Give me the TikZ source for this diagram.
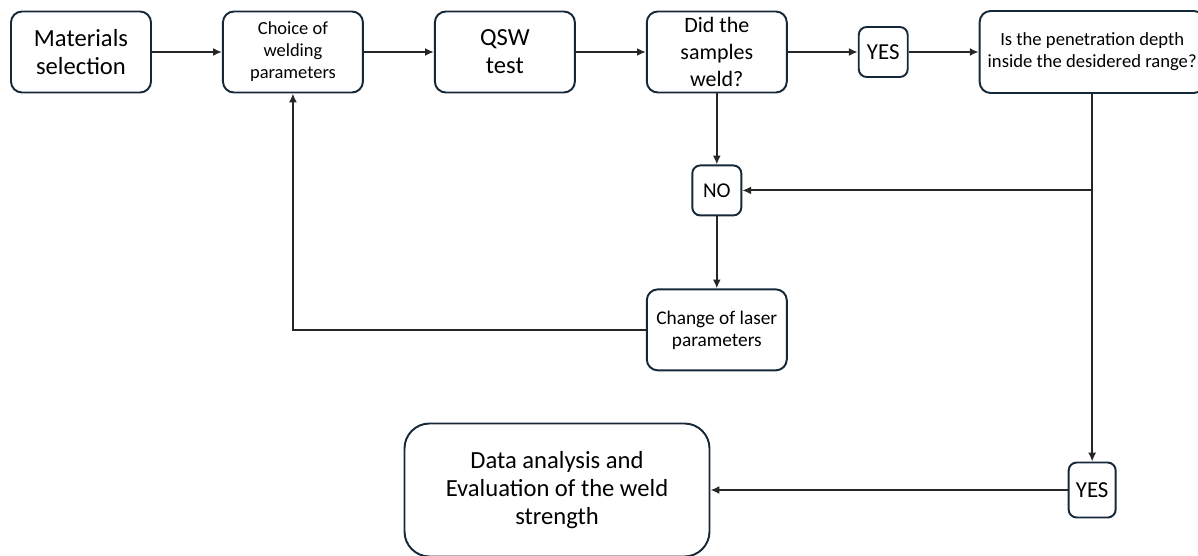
\documentclass[tikz,border=0pt]{standalone}
\usepackage{fontspec}
\setmainfont{Carlito}
\usetikzlibrary{arrows.meta,positioning,calc}
\definecolor{boxline}{RGB}{22,40,56}

\begin{document}
\begin{tikzpicture}[
  node distance=1.4cm,
  stepbox/.style={draw=boxline, line width=1.1pt, rounded corners=0.22cm, align=center, minimum width=2.8cm, minimum height=1.62cm, inner sep=2pt, font=\fontsize{14}{16}\selectfont},
  smallbox/.style={stepbox, font=\fontsize{10.5}{12.5}\selectfont},
  answer/.style={draw=boxline, line width=1.1pt, rounded corners=0.16cm, align=center, minimum width=0.98cm, minimum height=1.0cm, inner sep=1pt, font=\fontsize{13}{15}\selectfont},
  arr/.style={-{Latex[length=5pt,width=4.5pt]}, line width=1.1pt, black!85}
]
\useasboundingbox (0,0) rectangle (23.96,-11.12);

% top row
\node[stepbox] (mat) at (1.62,-1.04) {Materials\\selection};
\node[smallbox, right=1.4cm of mat] (choice) {Choice of\\welding\\parameters};
\node[stepbox, right=1.4cm of choice] (qsw) {QSW\\test};
\node[stepbox, right=1.4cm of qsw, font=\fontsize{12.5}{15.5}\selectfont] (weld) {Did the\\samples\\weld?};
\node[answer, right=1.4cm of weld] (yes) {YES};
\node[smallbox, right=1.4cm of yes, minimum width=4.5cm, minimum height=1.64cm, inner sep=0pt, font=\fontsize{10.6}{12.5}\selectfont] (depth) {Is the penetration depth\\inside the desidered range?};

% failure loop
\node[answer, below=1.42cm of weld, font=\fontsize{12}{14}\selectfont] (no) {NO};
\node[smallbox, below=1.44cm of no, font=\fontsize{11}{12.5}\selectfont] (change) {Change of laser\\parameters};

% success branch
\node[answer, minimum width=0.94cm, minimum height=1.1cm] (yes2) at (depth.south |- 0,-9.8) {YES};
\node[stepbox, minimum width=6.1cm, minimum height=2.66cm, rounded corners=0.5cm] (data) at (11.14,-9.8) {Data analysis and\\Evaluation of the weld\\strength};

\coordinate (split) at (depth.south |- no.east);

\draw[arr] (mat) -- (choice);
\draw[arr] (choice) -- (qsw);
\draw[arr] (qsw) -- (weld);
\draw[arr] (weld) -- (yes);
\draw[arr] (yes) -- (depth);
\draw[arr] (weld) -- (no);
\draw[arr] (no) -- (change);
\draw[arr] (change.west) -| (choice.south);
\draw[arr] (depth.south) -- (yes2.north);
\draw[arr] (split) -- (no.east);
\draw[arr] (yes2) -- (data);
\end{tikzpicture}
\end{document}
